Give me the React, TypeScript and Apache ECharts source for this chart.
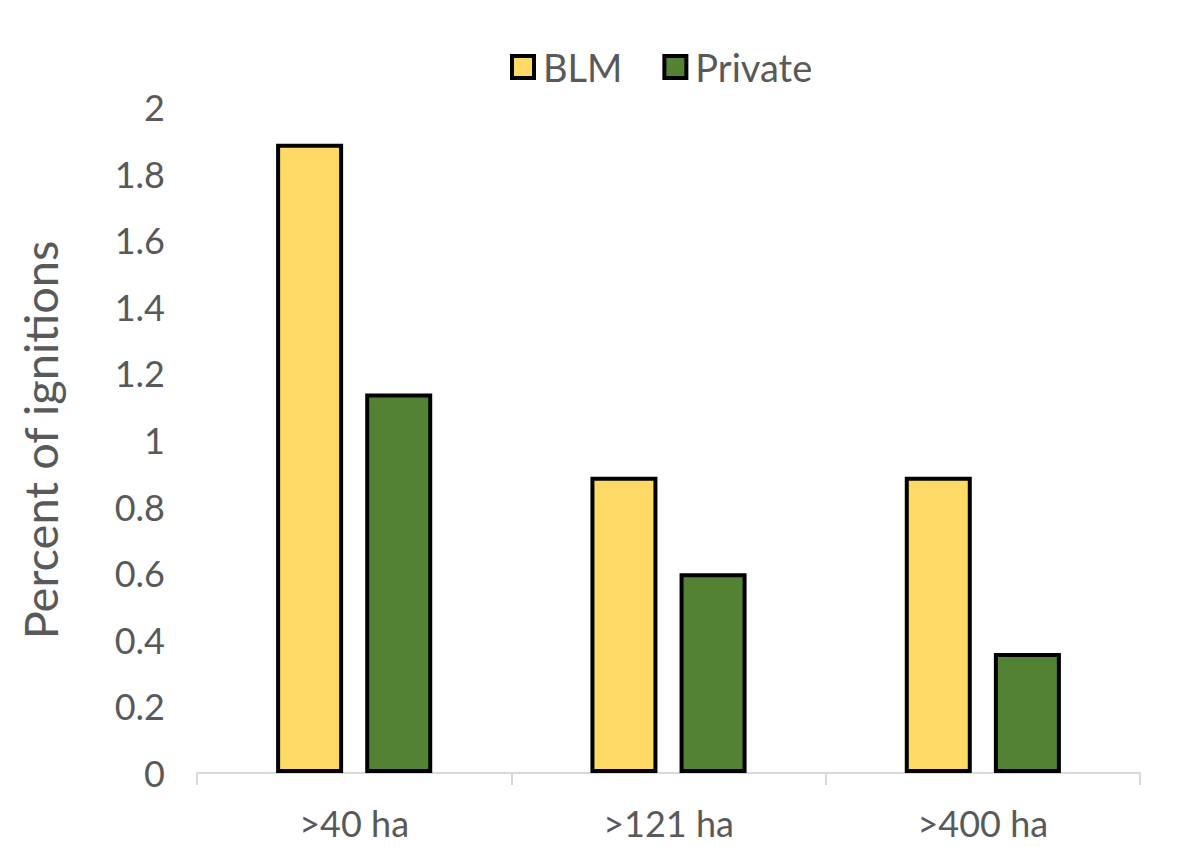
import React, { useEffect, useRef } from "react";
import * as echarts from "echarts";

const categories = [">40 ha", ">121 ha", ">400 ha"];
const blmValues = [1.89, 0.89, 0.89];
const privateValues = [1.14, 0.6, 0.36];
const yTicks = [0, 0.2, 0.4, 0.6, 0.8, 1, 1.2, 1.4, 1.6, 1.8, 2];

export default function App() {
  const ref = useRef<HTMLDivElement>(null);
  useEffect(() => {
    if (!ref.current) return;
    const chart = echarts.init(ref.current, undefined, { renderer: "svg" });
    const font = "Lato, 'Open Sans', sans-serif";
    chart.setOption({
      animation: false,
      backgroundColor: "#ffffff",
      textStyle: { fontFamily: font },
      legend: {
        top: 43,
        left: 505,
        itemWidth: 22,
        itemHeight: 22,
        itemGap: 40,
        icon: "rect",
        itemStyle: { borderColor: "#000000", borderWidth: 4 },
        textStyle: { fontSize: 38, color: "#595959", fontFamily: font, padding: [0, 0, 0, 4] },
        data: ["BLM", "Private"],
      },
      grid: { left: 197, right: 38, top: 107, bottom: 74, containLabel: false },
      xAxis: {
        type: "category",
        data: categories,
        axisLine: { lineStyle: { color: "#d9d9d9", width: 2 } },
        axisTick: { show: true, length: 12, lineStyle: { color: "#d9d9d9", width: 2 } },
        axisLabel: { fontSize: 36, color: "#595959", margin: 32, fontFamily: font },
      },
      yAxis: {
        type: "value",
        min: 0,
        max: 2,
        interval: 0.2,
        name: "Percent of ignitions",
        nameLocation: "middle",
        nameGap: 134,
        nameTextStyle: { fontSize: 47, color: "#595959", fontFamily: font },
        axisLine: { show: false },
        axisTick: { show: false },
        splitLine: { show: false },
        axisLabel: {
          fontSize: 36,
          color: "#595959",
          margin: 32,
          fontFamily: font,
          formatter: (v: number) => {
            const t = yTicks.find((x) => Math.abs(x - v) < 1e-6);
            return t === undefined ? "" : String(t);
          },
        },
      },
      series: [
        {
          name: "BLM",
          type: "bar",
          data: blmValues,
          barWidth: 67,
          barGap: "33%",
          itemStyle: { color: "#FFD966", borderColor: "#000000", borderWidth: 4 },
        },
        {
          name: "Private",
          type: "bar",
          data: privateValues,
          barWidth: 67,
          itemStyle: { color: "#548235", borderColor: "#000000", borderWidth: 4 },
        },
      ],
    });
    return () => chart.dispose();
  }, []);
  return (
    <div
      ref={ref}
      style={{ position: "fixed", left: 0, top: 0, width: 1178, height: 847 }}
    />
  );
}
